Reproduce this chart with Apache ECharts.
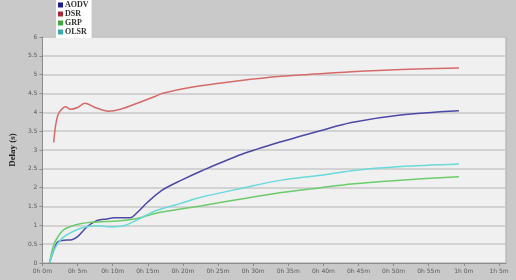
<!DOCTYPE html>
<html>
<head>
<meta charset="utf-8">
<script src="https://cdn.jsdelivr.net/npm/echarts@6/dist/echarts.min.js"></script>
<style>
  html, body { margin: 0; padding: 0; background: #c9c9c9; }
  #chart { width: 516px; height: 280px; }
</style>
</head>
<body>
<div id="chart"></div>
<script>
// simulation time in minutes, delay in seconds
const seriesNames = ['AODV', 'DSR', 'GRP', 'OLSR']
const lineColors = ['#4b48a6', '#d46a6a', '#6ccc6c', '#6ad9d9']
const legendColors = ['#1c1c8c', '#a82a3a', '#3fa83f', '#3aa8b0']

const aodvTime = [1, 2.1, 2.8, 4.2, 5, 6.4, 7.8, 9.2, 10.2, 12.5, 13.5, 15, 17, 19.8, 22.7, 28.3, 34, 39.7, 44, 51, 59.3]
const aodvDelay = [0, 0.55, 0.6, 0.62, 0.7, 0.97, 1.13, 1.17, 1.2, 1.2, 1.34, 1.62, 1.93, 2.2, 2.45, 2.88, 3.22, 3.52, 3.73, 3.93, 4.04]

const dsrTime = [1.6, 2.2, 3.3, 4.0, 5.0, 6.05, 7.5, 9.4, 11.1, 13.5, 16, 17, 21, 28, 34, 40, 44, 51, 59.3]
const dsrDelay = [3.2, 3.93, 4.15, 4.08, 4.13, 4.24, 4.13, 4.03, 4.08, 4.24, 4.42, 4.5, 4.66, 4.84, 4.96, 5.03, 5.08, 5.14, 5.18]

const grpTime = [1, 1.6, 2.4, 3.1, 4, 5.4, 6.9, 9, 11, 13.5, 16.3, 22.7, 28.3, 34, 39.7, 44, 51, 59.3]
const grpDelay = [0, 0.48, 0.75, 0.89, 0.97, 1.04, 1.08, 1.1, 1.12, 1.18, 1.33, 1.52, 1.7, 1.87, 2.0, 2.1, 2.2, 2.29]

const olsrTime = [1, 1.7, 2.6, 3.5, 5, 6.4, 7.8, 9.7, 11.6, 13, 14.9, 16.3, 19.8, 22.7, 28.3, 34, 39.7, 44, 51, 59.3]
const olsrDelay = [0, 0.36, 0.62, 0.75, 0.89, 0.97, 0.99, 0.96, 0.99, 1.1, 1.28, 1.4, 1.59, 1.75, 1.98, 2.2, 2.33, 2.45, 2.56, 2.63]

const allTimes = [aodvTime, dsrTime, grpTime, olsrTime]
const allDelays = [aodvDelay, dsrDelay, grpDelay, olsrDelay]

const chart = echarts.init(document.getElementById('chart'))

const axisText = { color: '#5a5a5a', fontSize: 6, fontFamily: 'DejaVu Sans' }

chart.setOption({
  backgroundColor: '#c9c9c9',
  animation: false,
  grid: {
    left: 39, top: 37, right: 10, bottom: 17,
    show: true, backgroundColor: '#f0f0f0', borderColor: '#a9a9a9', borderWidth: 1
  },
  legend: {
    left: 56, top: 0, orient: 'vertical', itemGap: 1,
    itemWidth: 5, itemHeight: 5, padding: [1, 3, 2, 2],
    backgroundColor: '#ffffff', icon: 'rect',
    textStyle: { fontFamily: 'Liberation Serif', fontWeight: 'bold', fontSize: 8, color: '#333', padding: [0, 0, 0, -3] },
    data: seriesNames.map((n, i) => ({ name: n, itemStyle: { color: legendColors[i] } }))
  },
  xAxis: {
    type: 'value', min: 0, max: 66, interval: 5,
    axisLine: { lineStyle: { color: '#8c8c8c', width: 1 } },
    axisTick: { length: 3, lineStyle: { color: '#8c8c8c' } },
    splitLine: { show: false },
    axisLabel: {
      ...axisText, margin: 5, showMaxLabel: false,
      formatter: v => v % 5 === 0 ? Math.floor(v / 60) + 'h ' + (v % 60) + 'm' : ''
    }
  },
  yAxis: {
    type: 'value', min: 0, max: 6, interval: 0.5,
    name: 'Delay (s)', nameLocation: 'middle', nameGap: 21, nameRotate: 90,
    nameTextStyle: { fontFamily: 'Liberation Serif', fontWeight: 'bold', fontSize: 9, color: '#222' },
    axisLine: { show: true, lineStyle: { color: '#8c8c8c', width: 1 } },
    axisTick: { show: true, length: 3, lineStyle: { color: '#8c8c8c' } },
    splitLine: { lineStyle: { color: '#c9c9c9', width: 1.5 } },
    axisLabel: { ...axisText, margin: 5 }
  },
  series: seriesNames.map((n, i) => ({
    name: n,
    type: 'line',
    smooth: 0.3,
    showSymbol: false,
    data: allTimes[i].map((t, k) => [t, allDelays[i][k]]),
    lineStyle: { color: lineColors[i], width: 1.5 },
    itemStyle: { color: legendColors[i] }
  }))
})
</script>
</body>
</html>
